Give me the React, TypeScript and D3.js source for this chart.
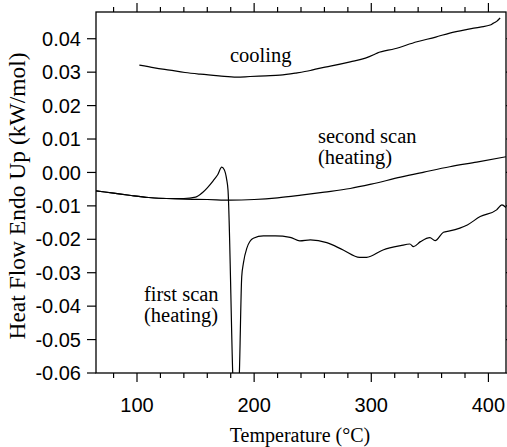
import React from "react";
import * as d3 from "d3";

const coolingT = [102, 115, 128, 141, 154, 170, 185, 196.5, 210, 222, 235, 248, 253.5, 265, 282, 295, 302, 305, 320, 339, 355, 367, 382, 393, 401.5, 404, 407, 410];
const coolingV = [0.0321, 0.0313, 0.0306, 0.0299, 0.0294, 0.0289, 0.0285, 0.0287, 0.0289, 0.0291, 0.0297, 0.0305, 0.0310, 0.0318, 0.0331, 0.0342, 0.0352, 0.0357, 0.0370, 0.0391, 0.0405, 0.0417, 0.0428, 0.0435, 0.0441, 0.0446, 0.0452, 0.0462];

const secondT = [65, 80, 95, 110, 125, 140, 160, 180, 200, 220, 240, 260, 282, 300, 325, 345, 367, 390, 415];
const secondV = [-0.0055, -0.0062, -0.0069, -0.0075, -0.0078, -0.0080, -0.0081, -0.0083, -0.0081, -0.0076, -0.0068, -0.0059, -0.0048, -0.0035, -0.0014, 0.0001, 0.0017, 0.0031, 0.0047];

const firstT = [65, 80, 95, 110, 125, 140, 150, 156, 160, 165, 169, 172.3, 174.5, 176.5, 177.7, 181.7, 182.6, 186.4, 187.4, 189.4, 190.8, 193.7, 199.3, 207.9, 218, 230.7, 239, 248, 262, 276, 290, 296, 310, 325, 333, 336, 342, 350, 354.5, 361.6, 367, 382, 393, 407, 411.5, 415];
const firstV = [-0.0055, -0.0062, -0.0069, -0.0075, -0.0078, -0.0078, -0.0074, -0.0060, -0.0046, -0.0025, -0.0006, 0.0016, 0.0008, -0.0020, -0.0053, -0.0600, -0.0700, -0.0700, -0.0600, -0.0312, -0.0272, -0.0227, -0.0197, -0.0190, -0.0190, -0.0194, -0.0205, -0.0202, -0.0210, -0.0232, -0.0254, -0.0254, -0.0232, -0.0219, -0.0214, -0.0222, -0.0207, -0.0195, -0.0204, -0.0179, -0.0175, -0.0157, -0.0132, -0.0112, -0.0097, -0.0105];

const xMajor = [100, 200, 300, 400];
const xMinor = [80, 120, 140, 160, 180, 220, 240, 260, 280, 320, 340, 360, 380];
const yTicks = [0.04, 0.03, 0.02, 0.01, 0.0, -0.01, -0.02, -0.03, -0.04, -0.05, -0.06];

const labels = [
  { lines: ["cooling"], x: 230, y: 62 },
  { lines: ["second scan", "(heating)"], x: 318, y: 143 },
  { lines: ["first scan", "(heating)"], x: 144, y: 301 },
];

export default function App() {
  const W = 507, H = 447;
  const L = 96, R = 506, T = 12, B = 373;
  const x = d3.scaleLinear().domain([65, 415]).range([L, R]);
  const y = d3.scaleLinear().domain([-0.06, 0.048]).range([B, T]);
  const line = (ts: number[], vs: number[]) =>
    d3.line<number>().x((_, i) => x(ts[i])).y((_, i) => y(vs[i])).curve(d3.curveMonotoneX)(ts) || "";
  const serif = "'Liberation Serif', 'Times New Roman', serif";
  const sans = "'Liberation Sans', Arial, sans-serif";
  return (
    <svg width={W} height={H} style={{ position: "absolute", left: 0, top: 0, background: "#fff" }}>
      <defs>
        <clipPath id="plotclip">
          <rect x={L} y={T} width={R - L} height={B - T} />
        </clipPath>
      </defs>
      <rect x={0} y={0} width={W} height={H} fill="#fff" />
      <g clipPath="url(#plotclip)" fill="none" stroke="#000" strokeWidth={1.2}>
        <path d={line(coolingT, coolingV)} />
        <path d={line(secondT, secondV)} />
        <path d={line(firstT, firstV)} />
      </g>
      <rect x={L} y={T} width={R - L} height={B - T} fill="none" stroke="#000" strokeWidth={1.3} />
      {xMajor.map((t) => (
        <g key={"xm" + t} stroke="#000" strokeWidth={1.2}>
          <line x1={x(t)} x2={x(t)} y1={B} y2={B + 9} />
          <line x1={x(t)} x2={x(t)} y1={T} y2={T - 9} />
        </g>
      ))}
      {xMinor.map((t) => (
        <g key={"xn" + t} stroke="#000" strokeWidth={1.2}>
          <line x1={x(t)} x2={x(t)} y1={B} y2={B + 5} />
          <line x1={x(t)} x2={x(t)} y1={T} y2={T - 5} />
        </g>
      ))}
      {yTicks.map((v) => (
        <g key={"y" + v} stroke="#000" strokeWidth={1.2}>
          <line x1={L - 9} x2={L} y1={y(v)} y2={y(v)} />
          <line x1={R} x2={R + 9} y1={y(v)} y2={y(v)} />
        </g>
      ))}
      {xMajor.map((t) => (
        <text key={"xl" + t} x={x(t)} y={412} textAnchor="middle" fontFamily={sans} fontSize={20}>
          {t}
        </text>
      ))}
      {yTicks.map((v) => (
        <text key={"yl" + v} x={81} y={y(v)} dy="0.36em" textAnchor="end" fontFamily={sans} fontSize={20}>
          {v.toFixed(2)}
        </text>
      ))}
      <text x={300} y={442} textAnchor="middle" fontFamily={serif} fontSize={20}>
        Temperature (°C)
      </text>
      <text
        transform={`translate(25, 196) rotate(-90)`}
        textAnchor="middle"
        fontFamily={serif}
        fontSize={23.5}
      >
        Heat Flow Endo Up (kW/mol)
      </text>
      {labels.map((lb, i) => (
        <text key={"lb" + i} fontFamily={serif} fontSize={20.5}>
          {lb.lines.map((s, j) => (
            <tspan key={j} x={lb.x} y={lb.y + j * 21}>
              {s}
            </tspan>
          ))}
        </text>
      ))}
    </svg>
  );
}
